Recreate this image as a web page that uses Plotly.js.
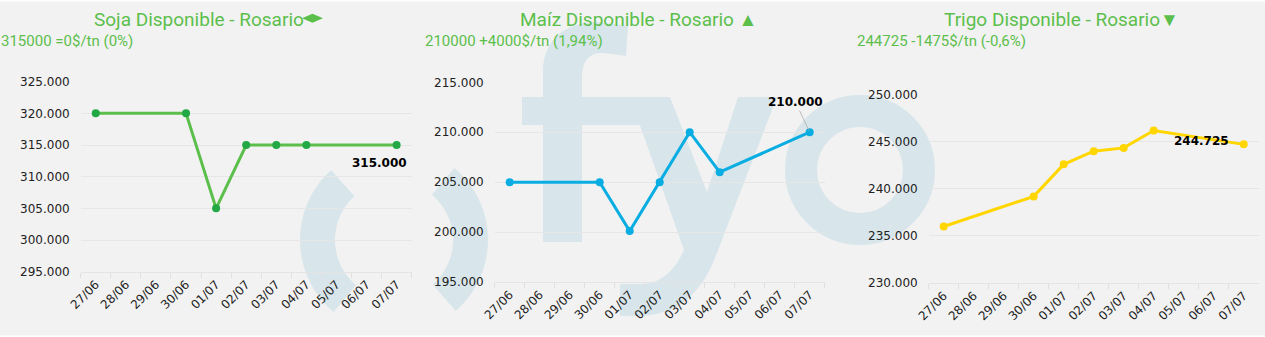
<!DOCTYPE html>
<html>
<head>
<meta charset="utf-8">
<script src="https://cdn.plot.ly/plotly-3.0.1.min.js"></script>
<style>
  html, body { margin: 0; padding: 0; background: #ffffff; }
  #chart { width: 1265px; height: 337px; }
</style>
</head>
<body>
<div id="chart"></div>
<script>
// ---------------- data ----------------
const categories = ["27/06","28/06","29/06","30/06","01/07","02/07","03/07","04/07","05/07","06/07","07/07"];

const sojaDates  = ["27/06","30/06","01/07","02/07","03/07","04/07","07/07"];
const sojaValues = [320000, 320000, 305000, 315000, 315000, 315000, 315000];

const maizDates  = ["27/06","30/06","01/07","02/07","03/07","04/07","07/07"];
const maizValues = [205000, 205000, 200100, 205000, 210000, 206000, 210000];

const trigoDates  = ["27/06","30/06","01/07","02/07","03/07","04/07","07/07"];
const trigoValues = [236000, 239200, 242600, 244000, 244350, 246200, 244725];

const titles    = ["Soja Disponible - Rosario", "Maíz Disponible - Rosario ▲", "Trigo Disponible - Rosario▼"];
const subtitles = ["315000 =0$/tn (0%)", "210000 +4000$/tn (1,94%)", "244725 -1475$/tn (-0,6%)"];

const sojaTicks  = [295000, 300000, 305000, 310000, 315000, 320000, 325000];
const maizTicks  = [195000, 200000, 205000, 210000, 215000];
const trigoTicks = [230000, 235000, 240000, 245000, 250000];

// ---------------- helpers ----------------
const W = 1265, H = 337;
const fx = x => x / W;
const fy = y => 1 - y / H;
function pathFrom(cmds) {
  return cmds.map(c => {
    const op = c[0];
    if (op === 'Z') return 'Z';
    const pts = [];
    for (let i = 1; i < c.length; i += 2) pts.push(fx(c[i]).toFixed(5) + ',' + fy(c[i + 1]).toFixed(5));
    return op + pts.join(' ');
  }).join(' ');
}
function annulusSector(cx, cy, rOut, rIn, a0, a1) {
  const n = 40, cmds = [];
  for (let i = 0; i <= n; i++) {
    const a = (a0 + (a1 - a0) * i / n) * Math.PI / 180;
    cmds.push([i === 0 ? 'M' : 'L', cx + rOut * Math.cos(a), cy - rOut * Math.sin(a)]);
  }
  for (let i = n; i >= 0; i--) {
    const a = (a0 + (a1 - a0) * i / n) * Math.PI / 180;
    cmds.push(['L', cx + rIn * Math.cos(a), cy - rIn * Math.sin(a)]);
  }
  cmds.push(['Z']);
  return pathFrom(cmds);
}
const fmt = v => String(v).replace(/\B(?=(\d{3})+(?!\d))/g, '.');

// ---------------- traces ----------------
const GREEN = '#5cbf4c';
function trace(xs, ys, lineColor, markerColor, ax) {
  return {
    x: xs, y: ys, type: 'scatter', mode: 'lines+markers',
    xaxis: 'x' + ax, yaxis: 'y' + ax,
    line: { color: lineColor, width: 3 },
    marker: { color: markerColor, size: 8 },
    hoverinfo: 'skip', cliponaxis: false
  };
}
const data = [
  trace(sojaDates, sojaValues, GREEN, '#22a844', ''),
  trace(maizDates, maizValues, '#0aade2', '#0aade2', '2'),
  trace(trigoDates, trigoValues, '#ffd600', '#ffd600', '3')
];

// ---------------- axes ----------------
const tickFont = { family: 'DejaVu Sans', size: 12, color: '#222222' };
function xAxis(d0, d1, anchor) {
  return {
    domain: [fx(d0), fx(d1)], anchor: anchor,
    type: 'category', categoryorder: 'array', categoryarray: categories,
    range: [-0.5, categories.length - 0.5], fixedrange: true,
    showgrid: false, zeroline: false,
    showline: true, linecolor: '#e4e4e4', linewidth: 1,
    ticks: 'outside', tickson: 'boundaries', ticklen: 5, tickcolor: '#e0e0e0', tickwidth: 1,
    tickangle: -45, tickfont: tickFont
  };
}
function yAxis(t0, t1, ticks, anchor) {
  return {
    domain: [fy(t1), fy(t0)], anchor: anchor,
    range: [ticks[0], ticks[ticks.length - 1]], fixedrange: true,
    tickvals: ticks, ticktext: ticks.map(fmt),
    showgrid: true, gridcolor: '#e6e6e6', gridwidth: 1,
    zeroline: false, showline: false, ticks: '',
    ticklabelstandoff: 10, tickfont: tickFont
  };
}

// ---------------- watermark shapes ----------------
const WM = '#d8e6eb';
const shapes = [
  { type: 'rect', xref: 'paper', yref: 'paper', x0: 0, x1: 1, y0: fy(1.5), y1: 1, fillcolor: '#ffffff', line: { width: 0 }, layer: 'below' },
  { type: 'rect', xref: 'paper', yref: 'paper', x0: 0, x1: 1, y0: 0, y1: fy(335.5), fillcolor: '#ffffff', line: { width: 0 }, layer: 'below' },
  // ring arcs
  { type: 'path', xref: 'paper', yref: 'paper', path: annulusSector(394, 240, 94, 59, 132, 230), fillcolor: WM, line: { width: 0 }, layer: 'below' },
  { type: 'path', xref: 'paper', yref: 'paper', path: annulusSector(394, 240, 94, 59, -49, 50), fillcolor: WM, line: { width: 0 }, layer: 'below' },
  // f
  { type: 'path', xref: 'paper', yref: 'paper', fillcolor: WM, line: { width: 0 }, layer: 'below',
    path: pathFrom([['M',543,242],['L',543,72],['C',543,40,565,22,598,22],['L',628,26],['L',626,56],['L',604,53],['C',590,52,582,60,582,78],['L',582,242],['Z']]) },
  { type: 'path', xref: 'paper', yref: 'paper', fillcolor: WM, line: { width: 0 }, layer: 'below',
    path: pathFrom([['M',522,97],['L',632,97],['L',643,125],['L',522,125],['Z']]) },
  // y
  { type: 'path', xref: 'paper', yref: 'paper', fillcolor: WM, line: { width: 0 }, layer: 'below',
    path: pathFrom([['M',630,97],['L',670,97],['L',707,192],['L',738,97],['L',777,97],['L',715,258],
                    ['C',700,296,675,315,640,316],['L',620,316],['L',620,284],['L',640,284],
                    ['C',660,284,674,272,684,250],['Z']]) },
  // o
  { type: 'circle', xref: 'paper', yref: 'paper', x0: fx(801), x1: fx(919), y0: fy(229), y1: fy(111),
    line: { color: WM, width: 32 }, fillcolor: 'rgba(0,0,0,0)', layer: 'below' },
  // soja title symbol (flat diamond)
  { type: 'path', xref: 'paper', yref: 'paper', fillcolor: GREEN, line: { width: 0 },
    path: pathFrom([['M',302,18.3],['L',312.5,13.8],['L',323,18.3],['L',312.5,22.8],['Z']]) }
];

// ---------------- annotations ----------------
const titleFont = { family: 'Roboto', size: 19, color: GREEN };
const subFont = { family: 'Roboto', size: 15, color: GREEN };
const labelFont = { family: 'DejaVu Sans', size: 12, color: '#000000', weight: 'bold' };
const annotations = [
  { text: titles[0], xref: 'paper', yref: 'paper', x: fx(91.5), y: fy(19.5), xanchor: 'left', yanchor: 'middle', showarrow: false, font: titleFont },
  { text: titles[1], xref: 'paper', yref: 'paper', x: fx(518), y: fy(19.5), xanchor: 'left', yanchor: 'middle', showarrow: false, font: titleFont },
  { text: titles[2], xref: 'paper', yref: 'paper', x: fx(941.5), y: fy(19.5), xanchor: 'left', yanchor: 'middle', showarrow: false, font: titleFont },
  { text: subtitles[0], xref: 'paper', yref: 'paper', x: fx(-1), y: fy(41.5), xanchor: 'left', yanchor: 'middle', showarrow: false, font: subFont },
  { text: subtitles[1], xref: 'paper', yref: 'paper', x: fx(423), y: fy(41.5), xanchor: 'left', yanchor: 'middle', showarrow: false, font: subFont },
  { text: subtitles[2], xref: 'paper', yref: 'paper', x: fx(855), y: fy(41.5), xanchor: 'left', yanchor: 'middle', showarrow: false, font: subFont },
  // last-value data labels
  { text: fmt(sojaValues[sojaValues.length - 1]), xref: 'x', yref: 'y',
    x: sojaDates[sojaDates.length - 1], y: sojaValues[sojaValues.length - 1],
    xshift: -17, yshift: -18, showarrow: false, font: labelFont },
  { text: fmt(maizValues[maizValues.length - 1]), xref: 'x2', yref: 'y2',
    x: maizDates[maizDates.length - 1], y: maizValues[maizValues.length - 1],
    ax: -14, ay: -30, showarrow: true, arrowhead: 0, arrowwidth: 0.8, arrowcolor: '#aaaaaa', standoff: 2, font: labelFont },
  { text: fmt(trigoValues[trigoValues.length - 1]), xref: 'x3', yref: 'y3',
    x: trigoDates[trigoDates.length - 1], y: trigoValues[trigoValues.length - 1],
    xshift: -42, yshift: 3.5, showarrow: false, font: labelFont }
];

const layout = {
  width: W, height: H,
  margin: { l: 0, r: 0, t: 0, b: 0, pad: 0 },
  paper_bgcolor: '#f2f2f2', plot_bgcolor: 'rgba(0,0,0,0)',
  showlegend: false, separators: ',.', hovermode: false,
  xaxis:  xAxis(80.7, 411.7, 'y'),
  yaxis:  yAxis(81.7, 271.7, sojaTicks, 'x'),
  xaxis2: xAxis(494.7, 824.7, 'y2'),
  yaxis2: yAxis(82.3, 282, maizTicks, 'x2'),
  xaxis3: xAxis(928.7, 1258.7, 'y3'),
  yaxis3: yAxis(94.7, 283, trigoTicks, 'x3'),
  shapes: shapes,
  annotations: annotations
};

Plotly.newPlot('chart', data, layout, { staticPlot: true, displayModeBar: false });
</script>
</body>
</html>
